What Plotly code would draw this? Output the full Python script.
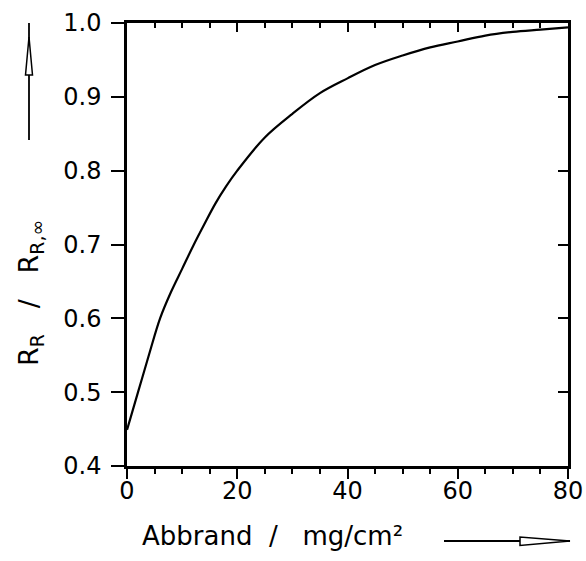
import plotly.graph_objects as go

# Relative resistance vs. burn-off
abbrand = [0, 2, 4, 6, 8, 10, 12, 14, 16, 18, 20, 25, 30, 35, 40, 45, 50, 55, 60, 65, 70, 75, 80]
rr_ratio = [0.449, 0.500, 0.551, 0.600, 0.636, 0.667, 0.698, 0.727, 0.755, 0.779, 0.800, 0.845, 0.877,
            0.905, 0.925, 0.943, 0.956, 0.967, 0.975, 0.983, 0.988, 0.991, 0.994]

x_ticks = [0, 20, 40, 60, 80]
y_ticks = [0.4, 0.5, 0.6, 0.7, 0.8, 0.9, 1.0]
y_labels = ["0.4", "0.5", "0.6", "0.7", "0.8", "0.9", "1.0"]

W, H = 586, 561
L, R, T, B = 127, 18, 23, 95
PW, PH = W - L - R, H - T - B

FONT = "DejaVu Sans"
INK = "#000000"
NB = "\u00a0"


def px(xp):
    return (xp - L) / PW


def py(yp):
    return (H - B - yp) / PH


fig = go.Figure()
fig.add_trace(go.Scatter(x=abbrand, y=rr_ratio, mode="lines", line=dict(color=INK, width=2.2),
                         line_shape="spline", showlegend=False))
# invisible trace to activate the mirrored top/right axes
fig.add_trace(go.Scatter(x=[0], y=[0.4], xaxis="x2", yaxis="y2", mode="markers",
                         marker=dict(opacity=0), showlegend=False, hoverinfo="skip"))

axis_common = dict(showgrid=False, zeroline=False, showline=True, linecolor=INK, linewidth=2.5,
                   tickcolor=INK, tickwidth=2, automargin=False)

fig.update_layout(
    width=W, height=H,
    margin=dict(l=L, r=R, t=T, b=B),
    paper_bgcolor="white", plot_bgcolor="white",
    font=dict(family=FONT, color=INK),
    xaxis=dict(range=[0, 80], tickvals=x_ticks, ticktext=[str(v) for v in x_ticks],
               ticks="outside", ticklen=10, tickfont=dict(size=24, family=FONT),
               ticklabelstandoff=-9,
               minor=dict(dtick=5, tick0=0, ticks="outside", ticklen=5, tickwidth=2, tickcolor=INK),
               **axis_common),
    yaxis=dict(range=[0.4, 1.0], tickvals=y_ticks, ticktext=y_labels,
               ticks="outside", ticklen=13, tickfont=dict(size=24, family=FONT),
               ticklabelstandoff=5, **axis_common),
    xaxis2=dict(range=[0, 80], overlaying="x", side="top", tickvals=x_ticks, showticklabels=False,
                ticks="inside", ticklen=9,
                minor=dict(dtick=5, tick0=0, ticks="inside", ticklen=5, tickwidth=2, tickcolor=INK),
                **axis_common),
    yaxis2=dict(range=[0.4, 1.0], overlaying="y", side="right", tickvals=y_ticks, showticklabels=False,
                ticks="inside", ticklen=10, **axis_common),
)

# axis titles
fig.add_annotation(text=f"Abbrand{NB}{NB}/{NB}{NB}{NB}mg/cm²", xref="paper", yref="paper",
                   x=px(272), y=py(536), xanchor="center", yanchor="middle",
                   showarrow=False, font=dict(size=26, family=FONT, color=INK))
fig.add_annotation(text=f"R<sub>R</sub>{NB}{NB}{NB}/{NB}{NB}{NB}R<sub>R,∞</sub>", xref="paper", yref="paper",
                   x=px(30), y=py(293), xanchor="center", yanchor="middle", textangle=-90,
                   showarrow=False, font=dict(size=27, family=FONT, color=INK))

# direction arrows next to the axis titles
shapes = [
    dict(type="line", xref="paper", yref="paper", x0=px(29), y0=py(140), x1=px(29), y1=py(23),
         line=dict(color=INK, width=1.8)),
    dict(type="path", xref="paper", yref="paper",
         path=f"M {px(25.5)} {py(75)} L {px(32.5)} {py(75)} L {px(29)} {py(37)} Z",
         line=dict(color=INK, width=1.5), fillcolor="white"),
    dict(type="line", xref="paper", yref="paper", x0=px(444), y0=py(541), x1=px(570), y1=py(541),
         line=dict(color=INK, width=1.8)),
    dict(type="path", xref="paper", yref="paper",
         path=f"M {px(520)} {py(537)} L {px(520)} {py(545.5)} L {px(570)} {py(541)} Z",
         line=dict(color=INK, width=1.5), fillcolor="white"),
]
fig.update_layout(shapes=shapes)

fig.write_html("out.html")
